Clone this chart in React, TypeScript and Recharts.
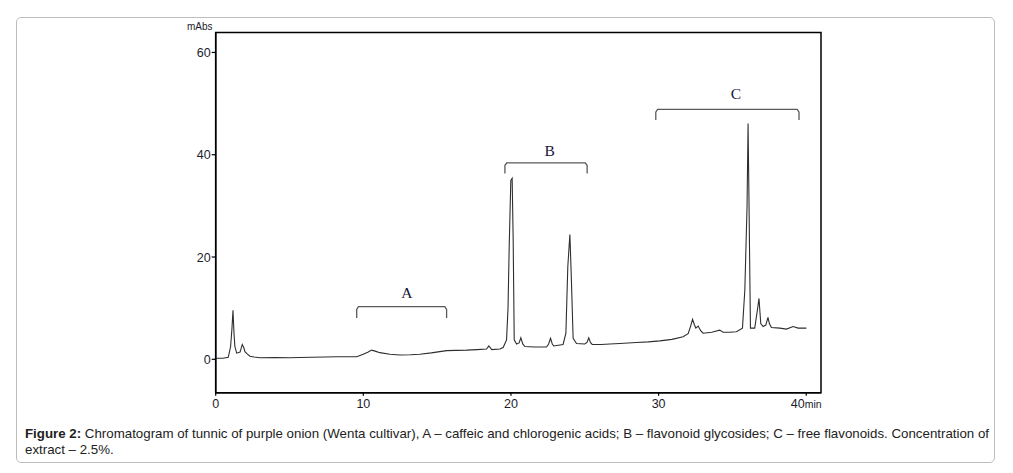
import React from 'react';
import { LineChart, Line, XAxis, YAxis, ReferenceArea, ReferenceDot } from 'recharts';

// Retention time (min)
const times = [
  0.0, 0.5, 0.85, 1.01, 1.1, 1.17, 1.24, 1.3, 1.42, 1.65, 1.8, 1.9, 1.98, 2.15, 2.32, 2.6, 3.0, 4.0, 5.0, 5.7, 6.5, 7.4, 8.19, 9.0, 9.55,
  9.99, 10.3, 10.56, 10.8, 11.12, 11.8, 12.48, 13.2, 13.83, 14.6, 15.64, 16.3, 17.0, 17.7, 18.35, 18.5, 18.7, 19.25, 19.47, 19.7,
  19.8, 19.88, 19.99, 20.08, 20.15, 20.22, 20.38, 20.55, 20.67, 20.8, 20.94, 21.6, 22.41, 22.55, 22.68, 22.8, 22.9, 23.53, 23.72,
  23.85, 23.99, 24.08, 24.21, 24.44, 25.0, 25.15, 25.27, 25.38, 25.5, 26.1, 26.7, 27.37, 28.5, 29.3, 30.08, 30.9, 31.66, 32.0,
  32.15, 32.3, 32.42, 32.52, 32.68, 32.85, 33.01, 33.6, 34.14, 34.37, 34.8, 35.27, 35.68, 35.84, 35.99, 36.06, 36.13, 36.22, 36.51,
  36.69, 36.8, 36.92, 37.08, 37.26, 37.41, 37.5, 37.64, 38.21, 38.66, 39.11, 39.45, 40.01,
];

// Absorbance (mAbs)
const absorbance = [
  0.2, 0.2, 0.4, 2.5, 6.0, 9.6, 5.0, 2.5, 1.2, 1.4, 2.9, 2.3, 1.5, 1.0, 0.6, 0.45, 0.3, 0.35, 0.3, 0.35, 0.4, 0.45, 0.5, 0.5, 0.5,
  1.0, 1.4, 1.8, 1.6, 1.3, 1.0, 0.85, 0.9, 1.0, 1.25, 1.7, 1.75, 1.8, 1.9, 2.0, 2.6, 1.9, 2.0, 2.3, 3.8,
  10.0, 22.0, 35.0, 35.4, 23.3, 3.8, 3.0, 3.2, 4.2, 3.0, 2.5, 2.4, 2.4, 3.0, 4.1, 3.0, 2.6, 2.9, 5.1,
  18.1, 24.4, 16.8, 4.1, 3.1, 3.0, 3.3, 4.2, 3.3, 2.9, 2.9, 3.0, 3.1, 3.3, 3.4, 3.6, 3.9, 4.4, 5.0,
  6.3, 7.8, 6.8, 6.1, 6.5, 5.6, 5.1, 5.3, 5.7, 5.3, 5.3, 5.4, 6.1, 13.5, 29.8, 46.1, 29.0, 6.1, 6.1,
  9.6, 11.9, 7.0, 6.4, 6.7, 8.2, 7.0, 6.2, 6.1, 5.9, 6.4, 6.1, 6.1,
];

const xTicks = [0, 10, 20, 30, 40];
const yTicks = [0, 20, 40, 60];

// Group brackets: start time, end time, bracket top level, bracket end level, label, label position
const groupLabels = ['A', 'B', 'C'];
const groupStart = [9.55, 19.59, 29.81];
const groupEnd = [15.64, 25.16, 39.51];
const groupTop = [10.3, 38.4, 48.86];
const groupFoot = [8.1, 36.35, 46.77];
const groupLabelTime = [12.95, 22.63, 35.23];
const groupLabelLevel = [13.1, 40.9, 52.0];

const data = times.map((t, i) => ({ t, v: absorbance[i] }));

const brackets = groupLabels.map((label, i) => {
  const a = groupStart[i];
  const b = groupEnd[i];
  const top = groupTop[i];
  const foot = groupFoot[i];
  const dy = (top - foot) * 0.25;
  return {
    label,
    lx: groupLabelTime[i],
    ly: groupLabelLevel[i],
    points: [
      { t: a, b: foot },
      { t: a, b: top - dy },
      { t: a + 0.12, b: top },
      { t: b - 0.12, b: top },
      { t: b, b: top - dy },
      { t: b, b: foot },
    ],
  };
});

const FONT = '"Liberation Sans", Arial, sans-serif';

const XTick = (props: any) => {
  const { x, y, payload } = props;
  return (
    <text x={x} y={y} dy="0.71em" textAnchor="middle" fontFamily={FONT} fontSize={12.5} fill="#1c1c2c">
      {payload.value}
      {payload.value === 40 ? <tspan fontSize={10.5}>min</tspan> : null}
    </text>
  );
};

const YTick = (props: any) => {
  const { x, y, payload } = props;
  return (
    <text x={x} y={y} dy="0.36em" textAnchor="end" fontFamily={FONT} fontSize={12.5} fill="#1c1c2c">
      {payload.value}
    </text>
  );
};

export default function App() {
  return (
    <div style={{ position: 'absolute', left: 0, top: 0, width: 1013, height: 473, background: '#fff' }}>
      <div
        style={{
          position: 'absolute',
          left: 16,
          top: 17,
          width: 977,
          height: 444,
          border: '1.5px solid #bdbdbd',
          borderRadius: 5,
        }}
      />
      <div style={{ position: 'absolute', left: 0, top: 0 }}>
        <LineChart
          width={1013}
          height={440}
          data={data}
          margin={{ top: 32.5, right: 192, left: 175.7, bottom: 17.3 }}
        >
          <ReferenceArea
            x1={0}
            x2={41}
            y1={-6.53}
            y2={63.9}
            stroke="#000"
            strokeWidth={1.5}
            fill="none"
            fillOpacity={0}
            ifOverflow="visible"
          />
          <XAxis
            dataKey="t"
            type="number"
            domain={[0, 41]}
            ticks={xTicks}
            allowDataOverflow
            height={30}
            tickSize={3}
            tickMargin={3}
            tick={<XTick />}
            axisLine={{ stroke: '#000', strokeWidth: 1.5 }}
            tickLine={{ stroke: '#000', strokeWidth: 1.2 }}
          />
          <YAxis
            type="number"
            domain={[-6.53, 63.9]}
            ticks={yTicks}
            allowDataOverflow
            width={40}
            tickSize={4}
            tickMargin={1}
            tick={<YTick />}
            axisLine={{ stroke: '#000', strokeWidth: 1.5 }}
            tickLine={{ stroke: '#000', strokeWidth: 1.2 }}
          />
          <Line
            dataKey="v"
            type="linear"
            stroke="#2e2e2e"
            strokeWidth={1.1}
            dot={false}
            isAnimationActive={false}
          />
          {brackets.map((br) => (
            <Line
              key={br.label}
              data={br.points}
              dataKey="b"
              type="linear"
              stroke="#5a5a5a"
              strokeWidth={1.3}
              dot={false}
              isAnimationActive={false}
            />
          ))}
          {brackets.map((br) => (
            <ReferenceDot
              key={'l' + br.label}
              x={br.lx}
              y={br.ly}
              r={0}
              fill="none"
              stroke="none"
              ifOverflow="visible"
              label={{
                value: br.label,
                position: 'center',
                fontFamily: '"Liberation Serif", "Times New Roman", serif',
                fontSize: 15.5,
                fill: '#14143a',
              }}
            />
          ))}
        </LineChart>
      </div>
      <span
        style={{
          position: 'absolute',
          left: 187,
          top: 21,
          fontFamily: FONT,
          fontSize: 10,
          color: '#1c1c2c',
        }}
      >
        mAbs
      </span>
      <div
        style={{
          position: 'absolute',
          left: 25,
          top: 426,
          fontFamily: FONT,
          fontSize: 13.3,
          lineHeight: '16px',
          color: '#222',
          whiteSpace: 'nowrap',
        }}
      >
        <b>Figure 2:</b> Chromatogram of tunnic of purple onion (Wenta cultivar), A – caffeic and chlorogenic acids; B – flavonoid
        glycosides; C – free flavonoids. Concentration of
        <br />
        extract – 2.5%.
      </div>
    </div>
  );
}
